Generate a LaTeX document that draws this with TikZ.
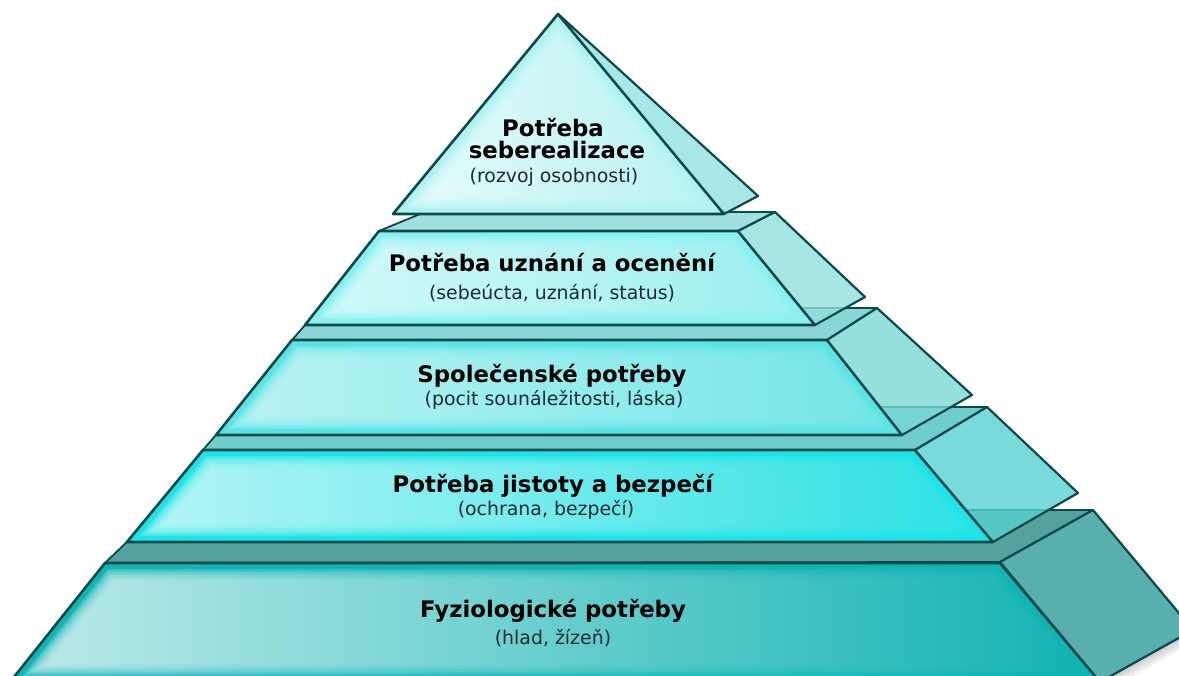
\documentclass[tikz,border=0pt]{standalone}
\usepackage{fontspec}
\setmainfont{DejaVu Sans}
\definecolor{edgec}{HTML}{0B4A4A}
\definecolor{subc}{HTML}{1C2B33}
% tier 1
\definecolor{Ae}{HTML}{B0F2F2}\definecolor{Al}{HTML}{EAFDFD}\definecolor{Ac}{HTML}{D6FAFA}\definecolor{Am}{HTML}{BFF5F5}\definecolor{As}{HTML}{92E1E1}
% tier 2
\definecolor{Be}{HTML}{8AEFEF}\definecolor{Bl}{HTML}{DCFCFC}\definecolor{Bc}{HTML}{C0F7F7}\definecolor{Bm}{HTML}{A2F2F2}\definecolor{Bs}{HTML}{92DEDE}\definecolor{Bg}{HTML}{A0E0E0}
% tier 3
\definecolor{Ce}{HTML}{5AE3E5}\definecolor{Cl}{HTML}{C6F6F6}\definecolor{Cc}{HTML}{A0EFF0}\definecolor{Cm}{HTML}{7CE8E9}\definecolor{Cs}{HTML}{7CD7D8}\definecolor{Cg}{HTML}{88D6D6}
% tier 4
\definecolor{De}{HTML}{1CE3E6}\definecolor{Dl}{HTML}{CAF8F8}\definecolor{Dc}{HTML}{8DEEF0}\definecolor{Dm}{HTML}{34E4E7}\definecolor{Ds}{HTML}{57D1D2}\definecolor{Dg}{HTML}{70CDCD}
% tier 5
\definecolor{Ee}{HTML}{12B3B3}\definecolor{El}{HTML}{D4F2F2}\definecolor{Ec}{HTML}{5CC9C9}\definecolor{Em}{HTML}{18B6B6}\definecolor{Es}{HTML}{3DA7A7}\definecolor{Eg}{HTML}{53A29F}
\tikzset{
  outl/.style={draw=edgec, line width=2.6pt, line join=round},
  sideface/.style={draw=edgec, line width=2.2pt, line join=round, fill opacity=0.8},
  ledge/.style={draw=edgec, line width=1.8pt, line join=round},
  bt/.style={font=\fontsize{22.8}{26}\selectfont\bfseries, anchor=base, text=black, inner sep=0pt},
  st/.style={font=\fontsize{18.9}{22}\selectfont, anchor=base, text=subc, inner sep=0pt}
}
% #1 tier letter #2 TLx #3 TRx #4 top y #5 BLx #6 BRx #7 bottom y
\newcommand{\tierfront}[7]{%
  \fill[#1e] (#2,#4) -- (#3,#4) -- (#6,#7) -- (#5,#7) -- cycle;
  \pgfmathsetmacro\sL{(#2-#5)/(#7-#4)}%
  \pgfmathsetmacro\sR{(#6-#3)/(#7-#4)}%
  \pgfmathsetmacro\kL{sqrt(1+\sL*\sL)}%
  \pgfmathsetmacro\kR{sqrt(1+\sR*\sR)}%
  \foreach \d in {6,8,10,12,14,16,18}{%
    \pgfmathsetmacro\yap{#7-((#6-#5)-\d*(\kL+\kR))/(\sL+\sR)}%
    \pgfmathsetmacro\ty{max(#4+\d,\yap)}%
    \pgfmathsetmacro\by{#7-\d}%
    \pgfmathsetmacro\xLt{#5+\sL*(#7-\ty)+\d*\kL}%
    \pgfmathsetmacro\xRt{#6-\sR*(#7-\ty)-\d*\kR}%
    \pgfmathsetmacro\xLb{#5+\sL*\d+\d*\kL}%
    \pgfmathsetmacro\xRb{#6-\sR*\d-\d*\kR}%
    \shade[left color=#1l, middle color=#1c, right color=#1m, opacity=0.25] (\xLt,\ty) -- (\xRt,\ty) -- (\xRb,\by) -- (\xLb,\by) -- cycle;
  }%
  \draw[outl] (#2,#4) -- (#3,#4) -- (#6,#7) -- (#5,#7) -- cycle;
}
\begin{document}
\begin{tikzpicture}[x=1pt,y=-1pt]
\useasboundingbox (0,0) rectangle (1179,676);
\clip (0,0) rectangle (1179,676);
\fill[white] (0,0) rectangle (1179,676);

% shadows of the bottom tier
\foreach \s in {2,4,6,8}{
  \fill[black, opacity=0.05] (105-\s,563+\s) -- (10-\s,682+\s) -- (1100+\s,682+\s) -- (1193+\s,630+\s) -- (1093+\s,510+\s) -- cycle;
}

% ---- tier 5
\filldraw[ledge, fill=Eg] (105,563) -- (1000,562) -- (1093,510) -- (160,510) -- cycle;
\tierfront{E}{105}{1000}{563}{10}{1100}{682}
\filldraw[sideface, fill=Es] (1000,562) -- (1093,510) -- (1193,630) -- (1100,682) -- cycle;

% ---- tier 4
\filldraw[ledge, fill=Dg] (203,450) -- (915,450) -- (987,407) -- (240,407) -- cycle;
\tierfront{D}{203}{915}{450}{127}{993}{542}
\filldraw[sideface, fill=Ds] (915,450) -- (987,407) -- (1078,493) -- (993,542) -- cycle;

% ---- tier 3
\filldraw[ledge, fill=Cg] (292,340) -- (827,340) -- (877,308) -- (320,308) -- cycle;
\tierfront{C}{292}{827}{340}{216}{902}{435}
\filldraw[sideface, fill=Cs] (827,340) -- (877,308) -- (972,395) -- (902,435) -- cycle;

% ---- tier 2
\filldraw[ledge, fill=Bg] (379,231) -- (738,231) -- (775,212) -- (425,212) -- cycle;
\tierfront{B}{379}{738}{231}{305}{815}{325}
\filldraw[sideface, fill=Bs] (738,231) -- (775,212) -- (865,297) -- (815,325) -- cycle;

% ---- tier 1
\tierfront{A}{558}{558}{14}{393}{724}{214}
\filldraw[sideface, fill=As] (558,14) -- (758,196) -- (724,214) -- cycle;

% ---- texts
\node[bt] (t1a) at (553,137) {Potřeba};
\node[bt] (t1b) at (557,159) {seberealizace};
\node[st] (t1c) at (554,183) {(rozvoj osobnosti)};

\node[bt] (t2a) at (552,272) {Potřeba uznání a ocenění};
\node[st] (t2b) at (552,300) {(sebeúcta, uznání, status)};

\node[bt] (t3a) at (552,383) {Společenské potřeby};
\node[st] (t3b) at (554,406) {(pocit sounáležitosti, láska)};

\node[bt] (t4a) at (553,492) {Potřeba jistoty a bezpečí};
\node[st] (t4b) at (546,515) {(ochrana, bezpečí)};

\node[bt] (t5a) at (553,617) {Fyziologické potřeby};
\node[st] (t5b) at (553,644) {(hlad, žízeň)};
\end{tikzpicture}
\end{document}
